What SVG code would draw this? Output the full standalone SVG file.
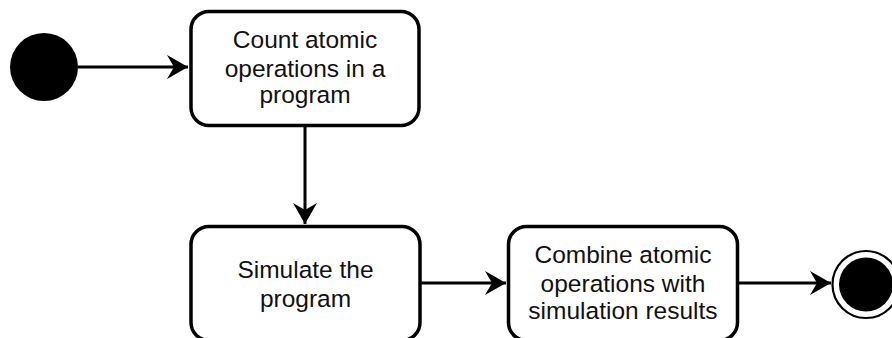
<svg xmlns="http://www.w3.org/2000/svg" width="892" height="338" viewBox="0 0 892 338">
  <style>
    .box { fill: #ffffff; stroke: #000000; stroke-width: 3.5; }
    .label { font-family: "Liberation Sans", Arial, sans-serif; font-size: 24.5px; fill: #111111; text-anchor: middle; }
    .edge { fill: none; stroke: #000000; stroke-width: 3; }
  </style>
  <defs>
    <marker id="arrow" markerUnits="userSpaceOnUse" markerWidth="24" markerHeight="26" viewBox="-22 -13 24 26" refX="0" refY="0" orient="auto">
      <path d="M0,0 L-21,-12 L-14,0 L-21,12 Z" fill="#000000"/>
    </marker>
  </defs>

  <g id="start">
    <circle cx="44" cy="67" r="34" fill="#000000"/>
  </g>

  <g id="count">
    <rect class="box" x="191" y="11.5" width="228" height="114" rx="18" ry="18"/>
    <text class="label" x="305" y="48">Count atomic</text>
    <text class="label" x="305" y="76.5">operations in a</text>
    <text class="label" x="305" y="103">program</text>
  </g>

  <g id="simulate">
    <rect class="box" x="191" y="226.5" width="229" height="114" rx="18" ry="18"/>
    <text class="label" x="305.5" y="278">Simulate the</text>
    <text class="label" x="305.5" y="306.5">program</text>
  </g>

  <g id="combine">
    <rect class="box" x="508.5" y="226.5" width="229" height="114" rx="18" ry="18"/>
    <text class="label" x="623" y="263">Combine atomic</text>
    <text class="label" x="623" y="291.5">operations with</text>
    <text class="label" x="623" y="319">simulation results</text>
  </g>

  <g id="end">
    <circle cx="866" cy="284.5" r="33.5" fill="#ffffff" stroke="#000000" stroke-width="2.2"/>
    <circle cx="866" cy="284.5" r="27" fill="#000000"/>
  </g>

  <g id="connectors">
    <path class="edge" d="M78,67 L188,67" marker-end="url(#arrow)"/>
    <path class="edge" d="M305,127 L305,224" marker-end="url(#arrow)"/>
    <path class="edge" d="M421,283 L506,283" marker-end="url(#arrow)"/>
    <path class="edge" d="M739,283 L831,283" marker-end="url(#arrow)"/>
  </g>
</svg>
